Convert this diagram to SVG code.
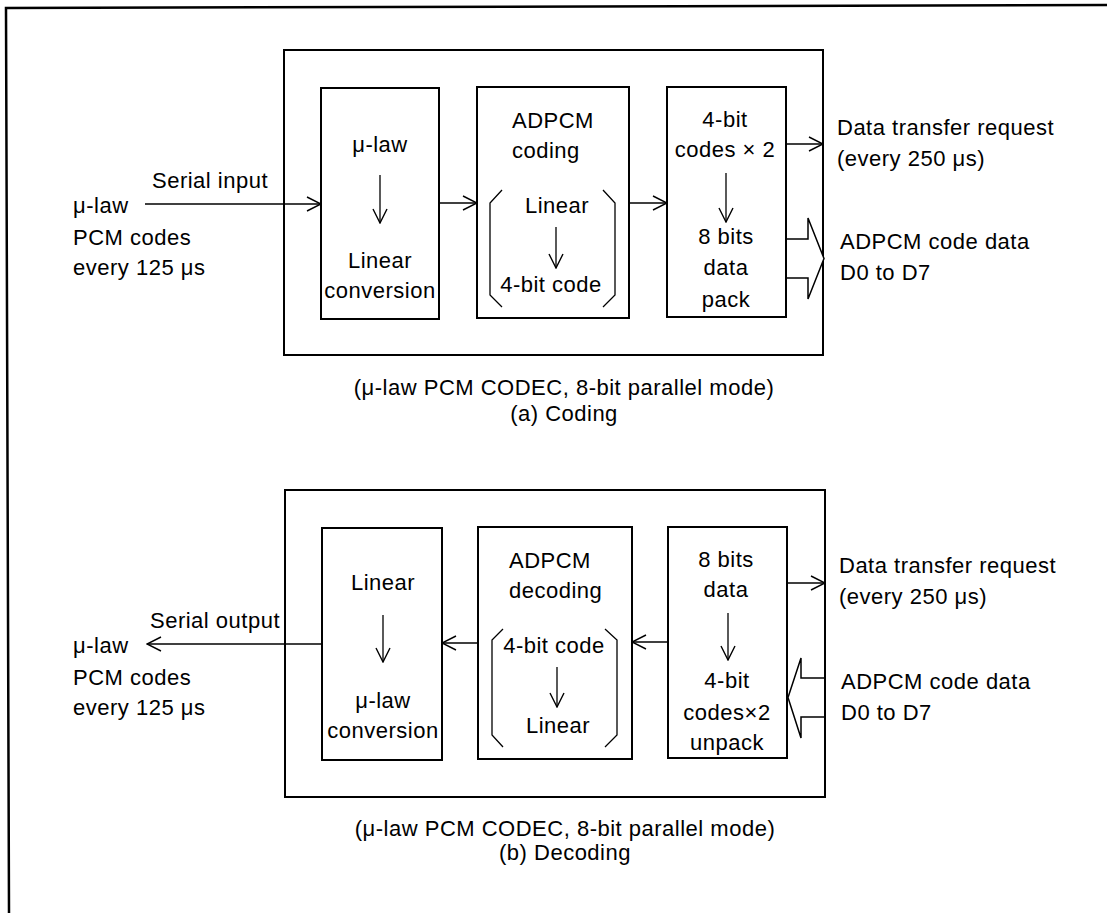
<svg xmlns="http://www.w3.org/2000/svg" width="1107" height="913" viewBox="0 0 1107 913">
<defs>
<style>
text{font-family:"Liberation Sans",Arial,sans-serif;font-size:22px;letter-spacing:0.5px;fill:#000}
.c{text-anchor:middle}
.box{fill:none;stroke:#000;stroke-width:2}
.ln{fill:none;stroke:#000;stroke-width:1.3}
.fat{fill:#fff;stroke:#000;stroke-width:1.5;stroke-linejoin:miter}
</style>
<marker id="ah" viewBox="0 0 16 16" refX="15" refY="8" markerWidth="16" markerHeight="16" markerUnits="userSpaceOnUse" orient="auto">
<path d="M1,1 L15,8 L1,15" fill="none" stroke="#000" stroke-width="1.4"/>
</marker>
</defs>
<rect width="1107" height="913" fill="#fff"/>
<path d="M1107,5 L6,8 L9,913" fill="none" stroke="#000" stroke-width="2.5"/>

<!-- (a) Coding -->
<g id="coding-frame"><rect class="box" x="284" y="50" width="539" height="305"/></g>
<g id="coding-ulaw-linear">
<rect class="box" x="321" y="88" width="118" height="231"/>
<text class="c" x="380" y="152">μ-law</text>
<path class="ln" d="M380,175 V223" marker-end="url(#ah)"/>
<text class="c" x="380" y="268">Linear</text>
<text class="c" x="380" y="298">conversion</text>
</g>
<g id="coding-adpcm">
<rect class="box" x="477" y="87" width="152" height="231"/>
<text x="512" y="128">ADPCM</text>
<text x="512" y="158">coding</text>
<path class="ln" d="M502,190 L490,203 V295 L502,307"/>
<path class="ln" d="M603,190 L615,203 V295 L603,307"/>
<text class="c" x="557" y="213">Linear</text>
<path class="ln" d="M556,227 V268" marker-end="url(#ah)"/>
<text class="c" x="551" y="292">4-bit code</text>
</g>
<g id="coding-pack">
<rect class="box" x="667" y="87" width="119" height="230"/>
<text class="c" x="725" y="127">4-bit</text>
<text class="c" x="725" y="157">codes × 2</text>
<path class="ln" d="M726,173 V222" marker-end="url(#ah)"/>
<text class="c" x="726" y="244">8 bits</text>
<text class="c" x="726" y="275">data</text>
<text class="c" x="726" y="307">pack</text>
</g>
<g id="coding-labels">
<text x="152" y="188">Serial input</text>
<text x="73" y="213">μ-law</text>
<text x="73" y="245">PCM codes</text>
<text x="73" y="275">every 125 μs</text>
<text x="837" y="135">Data transfer request</text>
<text x="837" y="166">(every 250 μs)</text>
<text x="840" y="249">ADPCM code data</text>
<text x="840" y="280">D0 to D7</text>
<text class="c" x="564" y="395">(μ-law PCM CODEC, 8-bit parallel mode)</text>
<text class="c" x="564" y="421">(a) Coding</text>
</g>

<!-- (b) Decoding -->
<g id="decoding-frame"><rect class="box" x="285" y="490" width="540" height="307"/></g>
<g id="decoding-linear-ulaw">
<rect class="box" x="322" y="528" width="120" height="232"/>
<text class="c" x="383" y="590">Linear</text>
<path class="ln" d="M383,615 V662" marker-end="url(#ah)"/>
<text class="c" x="383" y="708">μ-law</text>
<text class="c" x="383" y="738">conversion</text>
</g>
<g id="decoding-adpcm">
<rect class="box" x="478" y="527" width="154" height="232"/>
<text x="509" y="568">ADPCM</text>
<text x="509" y="598">decoding</text>
<path class="ln" d="M503,629 L492,640 V735 L503,747"/>
<path class="ln" d="M605,629 L617,640 V735 L605,747"/>
<text class="c" x="554" y="653">4-bit code</text>
<path class="ln" d="M557,667 V707" marker-end="url(#ah)"/>
<text class="c" x="558" y="733">Linear</text>
</g>
<g id="decoding-unpack">
<rect class="box" x="668" y="527" width="119" height="231"/>
<text class="c" x="726" y="567">8 bits</text>
<text class="c" x="726" y="597">data</text>
<path class="ln" d="M728,613 V660" marker-end="url(#ah)"/>
<text class="c" x="727" y="688">4-bit</text>
<text class="c" x="727" y="720">codes×2</text>
<text class="c" x="727" y="750">unpack</text>
</g>
<g id="decoding-labels">
<text x="150" y="628">Serial output</text>
<text x="73" y="653">μ-law</text>
<text x="73" y="685">PCM codes</text>
<text x="73" y="715">every 125 μs</text>
<text x="839" y="573">Data transfer request</text>
<text x="839" y="604">(every 250 μs)</text>
<text x="841" y="689">ADPCM code data</text>
<text x="841" y="720">D0 to D7</text>
<text class="c" x="565" y="836">(μ-law PCM CODEC, 8-bit parallel mode)</text>
<text class="c" x="565" y="860">(b) Decoding</text>
</g>

<g id="connectors">
<path class="ln" d="M145,204 H321" marker-end="url(#ah)"/>
<path class="ln" d="M439,203 H477" marker-end="url(#ah)"/>
<path class="ln" d="M629,203 H667" marker-end="url(#ah)"/>
<path class="ln" d="M786,144 H823" marker-end="url(#ah)"/>
<path class="fat" d="M787,239 H808 V218 L824,258.5 L808,299 V278 H787"/>
<path class="ln" d="M322,644 H147" marker-end="url(#ah)"/>
<path class="ln" d="M478,643 H442" marker-end="url(#ah)"/>
<path class="ln" d="M668,642 H632" marker-end="url(#ah)"/>
<path class="ln" d="M787,583 H825" marker-end="url(#ah)"/>
<path class="fat" d="M824,678 H801 V658 L788,697.5 L801,738 V717 H824"/>
</g>
</svg>
